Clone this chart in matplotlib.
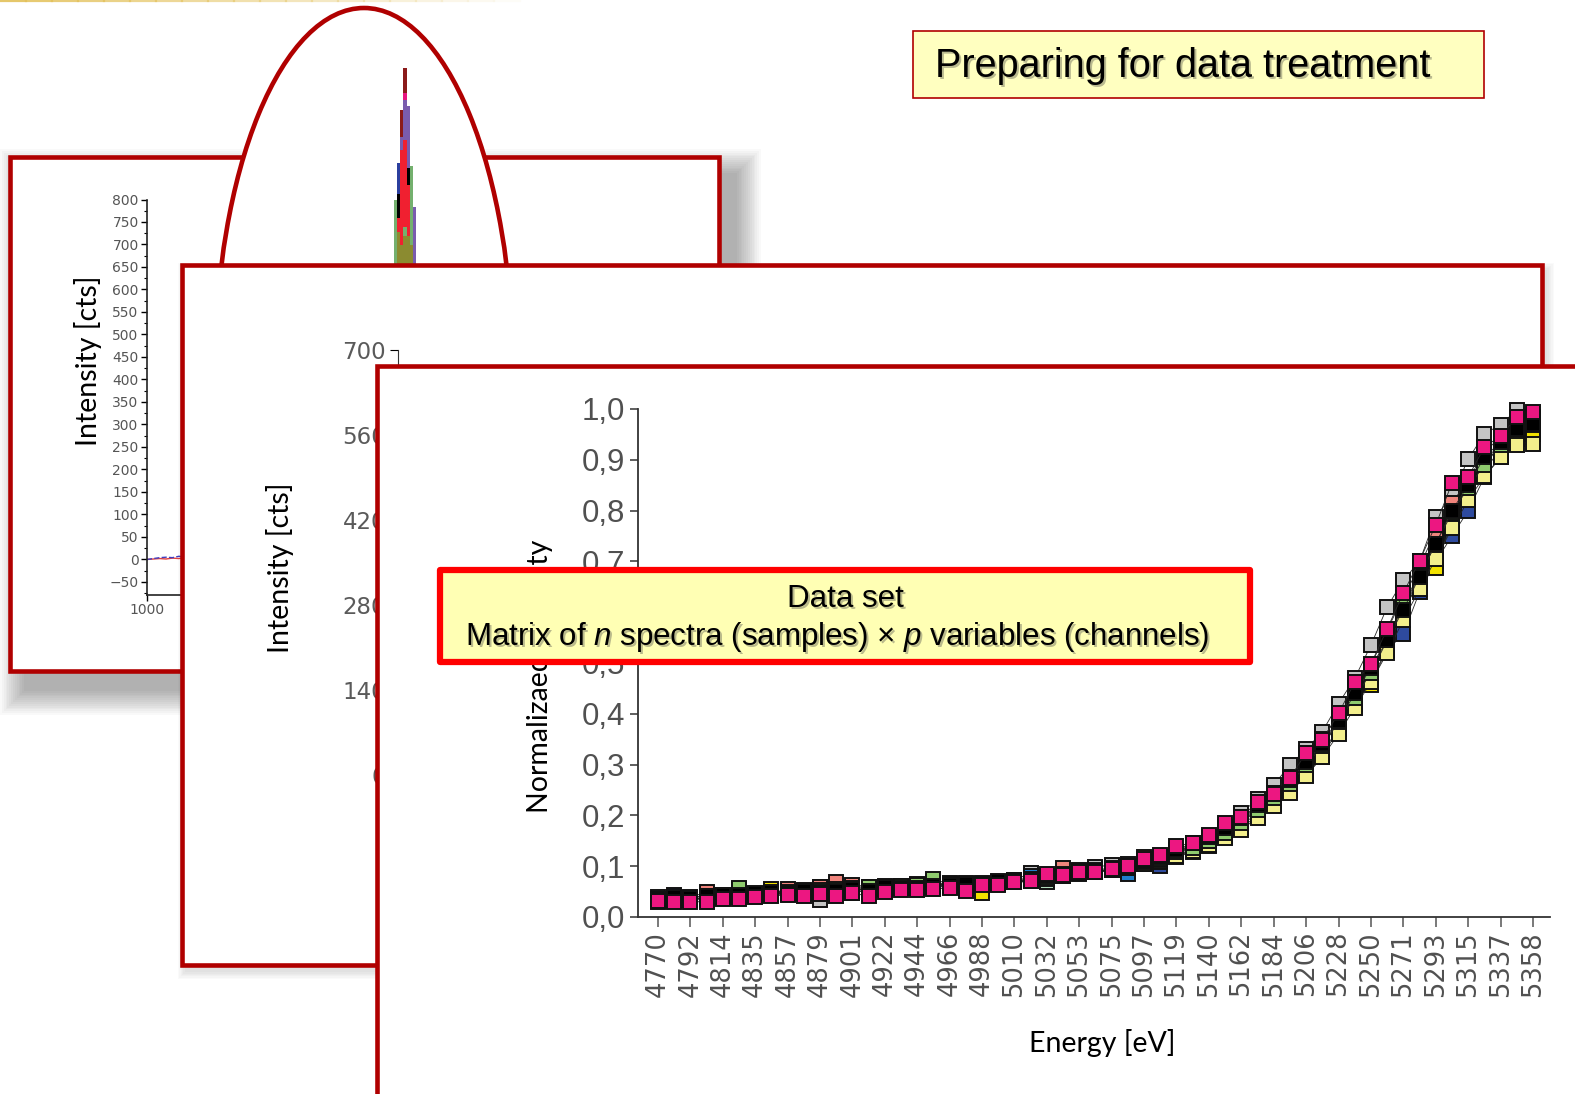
import numpy as np
import matplotlib.pyplot as plt
from matplotlib.patches import Rectangle, Ellipse
from matplotlib.lines import Line2D

plt.rcParams['mathtext.fontset'] = 'custom'
plt.rcParams['mathtext.rm'] = 'Liberation Sans'
plt.rcParams['mathtext.it'] = 'Liberation Sans:italic'

W, H = 1575, 1094
DARKRED = '#B00000'
TICKGREY = '#505050'

# ---- data: main panel (normalized spectra, 55 channels) ----
energy_labels = ['4770', '4792', '4814', '4835', '4857', '4879', '4901', '4922',
                 '4944', '4966', '4988', '5010', '5032', '5053', '5075', '5097',
                 '5119', '5140', '5162', '5184', '5206', '5228', '5250', '5271',
                 '5293', '5315', '5337', '5358']

black = [0.036, 0.040, 0.038, 0.042, 0.043, 0.044, 0.047, 0.050, 0.048, 0.051,
         0.050, 0.052, 0.055, 0.052, 0.060, 0.058, 0.058, 0.062, 0.063, 0.064,
         0.066, 0.070, 0.072, 0.074, 0.080, 0.085, 0.090, 0.093, 0.096, 0.100,
         0.110, 0.118, 0.132, 0.145, 0.158, 0.175, 0.195, 0.220, 0.245, 0.270,
         0.305, 0.340, 0.385, 0.440, 0.490, 0.545, 0.605, 0.670, 0.735, 0.800,
         0.850, 0.905, 0.935, 0.960, 0.970]
grey = [0.040, 0.035, 0.038, 0.036, 0.040, 0.042, 0.044, 0.047, 0.046, 0.050,
        0.034, 0.050, 0.055, 0.054, 0.060, 0.058, 0.062, 0.065, 0.064, 0.060,
        0.062, 0.066, 0.072, 0.087, 0.080, 0.085, 0.092, 0.098, 0.103, 0.105,
        0.112, 0.118, 0.130, 0.142, 0.158, 0.178, 0.205, 0.232, 0.260, 0.299,
        0.330, 0.365, 0.420, 0.470, 0.535, 0.610, 0.663, 0.700, 0.787, 0.830,
        0.901, 0.951, 0.969, 0.998, 0.975]
navy = [0.035, 0.040, 0.036, 0.038, 0.040, 0.042, 0.045, 0.046, 0.050, 0.052,
        0.060, 0.055, 0.058, 0.056, 0.058, 0.060, 0.062, 0.063, 0.062, 0.060,
        0.062, 0.066, 0.070, 0.072, 0.080, 0.085, 0.088, 0.090, 0.092, 0.090,
        0.106, 0.100, 0.118, 0.128, 0.140, 0.160, 0.180, 0.205, 0.230, 0.255,
        0.290, 0.325, 0.370, 0.420, 0.470, 0.525, 0.557, 0.640, 0.700, 0.750,
        0.800, 0.866, 0.905, 0.941, 0.950]
azure = [0.033, 0.043, 0.034, 0.036, 0.038, 0.041, 0.043, 0.045, 0.047, 0.054,
         0.048, 0.050, 0.052, 0.050, 0.055, 0.057, 0.058, 0.060, 0.059, 0.061,
         0.064, 0.067, 0.070, 0.080, 0.078, 0.083, 0.087, 0.089, 0.092, 0.085,
         0.104, 0.108, 0.125, 0.135, 0.150, 0.170, 0.188, 0.212, 0.238, 0.265,
         0.300, 0.338, 0.382, 0.428, 0.478, 0.540, 0.600, 0.665, 0.728, 0.790,
         0.840, 0.900, 0.930, 0.958, 0.965]
lightgreen = [0.034, 0.032, 0.035, 0.038, 0.040, 0.055, 0.042, 0.044, 0.046, 0.048,
              0.050, 0.052, 0.048, 0.053, 0.056, 0.058, 0.062, 0.060, 0.061, 0.058,
              0.063, 0.065, 0.069, 0.072, 0.068, 0.083, 0.086, 0.090, 0.093, 0.097,
              0.108, 0.113, 0.128, 0.138, 0.152, 0.172, 0.190, 0.215, 0.240, 0.268,
              0.305, 0.342, 0.390, 0.440, 0.488, 0.550, 0.615, 0.677, 0.742, 0.797,
              0.850, 0.880, 0.940, 0.975, 0.977]
yellow = [0.032, 0.034, 0.036, 0.037, 0.039, 0.041, 0.044, 0.056, 0.045, 0.047,
          0.049, 0.052, 0.054, 0.056, 0.058, 0.060, 0.061, 0.062, 0.064, 0.063,
          0.047, 0.066, 0.070, 0.072, 0.076, 0.082, 0.086, 0.090, 0.094, 0.098,
          0.118, 0.110, 0.122, 0.132, 0.145, 0.160, 0.175, 0.200, 0.222, 0.250,
          0.280, 0.315, 0.372, 0.430, 0.457, 0.530, 0.604, 0.660, 0.687, 0.780,
          0.830, 0.880, 0.920, 0.945, 0.950]
paleyellow = [0.030, 0.033, 0.035, 0.037, 0.038, 0.040, 0.042, 0.044, 0.046, 0.048,
              0.050, 0.051, 0.053, 0.055, 0.057, 0.059, 0.060, 0.066, 0.062, 0.065,
              0.064, 0.067, 0.069, 0.071, 0.075, 0.080, 0.084, 0.088, 0.092, 0.096,
              0.104, 0.110, 0.120, 0.130, 0.142, 0.156, 0.172, 0.195, 0.218, 0.245,
              0.278, 0.315, 0.360, 0.412, 0.462, 0.520, 0.585, 0.645, 0.705, 0.765,
              0.820, 0.868, 0.905, 0.930, 0.931]
salmon = [0.033, 0.036, 0.038, 0.050, 0.040, 0.042, 0.045, 0.047, 0.055, 0.050,
          0.060, 0.068, 0.063, 0.060, 0.058, 0.062, 0.064, 0.066, 0.066, 0.062,
          0.064, 0.067, 0.070, 0.073, 0.078, 0.097, 0.088, 0.090, 0.094, 0.098,
          0.110, 0.115, 0.130, 0.140, 0.150, 0.168, 0.190, 0.220, 0.245, 0.275,
          0.312, 0.350, 0.398, 0.440, 0.495, 0.565, 0.630, 0.690, 0.760, 0.815,
          0.860, 0.915, 0.945, 0.970, 0.985]
green = [0.035, 0.037, 0.039, 0.041, 0.043, 0.058, 0.046, 0.048, 0.050, 0.052,
         0.054, 0.056, 0.058, 0.060, 0.062, 0.061, 0.063, 0.075, 0.064, 0.066,
         0.065, 0.068, 0.070, 0.073, 0.076, 0.081, 0.086, 0.090, 0.094, 0.099,
         0.108, 0.114, 0.127, 0.136, 0.150, 0.165, 0.185, 0.210, 0.235, 0.262,
         0.300, 0.336, 0.384, 0.432, 0.480, 0.545, 0.612, 0.672, 0.735, 0.795,
         0.845, 0.890, 0.930, 0.960, 0.968]
pink = [0.031, 0.030, 0.030, 0.030, 0.035, 0.035, 0.039, 0.042, 0.043, 0.042,
        0.045, 0.041, 0.047, 0.041, 0.050, 0.054, 0.054, 0.055, 0.057, 0.052,
        0.063, 0.063, 0.068, 0.070, 0.084, 0.082, 0.088, 0.088, 0.094, 0.100,
        0.114, 0.123, 0.139, 0.146, 0.161, 0.185, 0.197, 0.226, 0.242, 0.274,
        0.323, 0.348, 0.401, 0.462, 0.498, 0.567, 0.638, 0.701, 0.772, 0.854,
        0.866, 0.925, 0.947, 0.984, 0.994]

series = [(grey, '#c4c4c4'), (navy, '#2e4a9e'), (azure, '#1f7fcc'),
          (lightgreen, '#b5ddbe'), (yellow, '#f2e200'), (paleyellow, '#f3ef8c'),
          (salmon, '#f0847c'), (green, '#8fcb6e'), (black, '#000000'),
          (pink, '#ec1781')]

# ---- data: first panel (survey spectrum, peak seen through the ellipse) ----
peak_energy = [4910, 4960, 5010, 5060, 5110, 5160, 5210]
peak_darkred = [650, 700, 999, 1092, 880, 700, 600]
peak_pink = [748, 650, 900, 1036, 820, 650, 640]
peak_purple = [700, 760, 940, 1021, 1008, 780, 783]
peak_blue = [730, 881, 800, 850, 760, 700, 650]
peak_black = [640, 812, 780, 820, 870, 866, 620]
peak_red = [680, 760, 910, 932, 832, 800, 600]
peak_green = [799, 700, 700, 740, 700, 874, 560]
peak_olive = [600, 728, 700, 720, 720, 700, 560]
peak_series = [(peak_darkred, '#8b1a1a'), (peak_pink, '#e8157f'),
               (peak_purple, '#7a5cae'), (peak_blue, '#2b3f9e'),
               (peak_black, '#000000'), (peak_red, '#f02030'),
               (peak_green, '#74b06e'), (peak_olive, '#8b8b30')]
base_energy = [1000, 1100, 1200, 1300, 1400, 1500, 1600]
base_red = [0, 1, 2, 1, 3, 2, 4]
base_blue = [0, 2, 4, 5, 4, 7, 6]


def frac(x0, y0, x1, y1):
    return [x0 / W, 1 - y1 / H, (x1 - x0) / W, (y1 - y0) / H]


def fig_rect(x0, y0, x1, y1, **kw):
    r = Rectangle((x0 / W, 1 - y1 / H), (x1 - x0) / W, (y1 - y0) / H,
                  transform=fig.transFigure, **kw)
    fig.add_artist(r)
    return r


def shadow(x0, y0, x1, y1, dx, dy, blur, z, n=14, a=0.022):
    for i in range(n):
        g = blur * (1 - i / n)
        fig_rect(x0 + dx - g, y0 + dy - g, x1 + dx + g, y1 + dy + g,
                 facecolor='black', edgecolor='none', alpha=a, zorder=z)


fig = plt.figure(figsize=(15.75, 10.94), dpi=100)
fig.patch.set_facecolor('white')

# thin gold line on top edge
for i in range(20):
    fig.add_artist(Line2D([i * 26 / W, (i + 1) * 26 / W], [1 - 1 / H, 1 - 1 / H],
                          transform=fig.transFigure, color='#e3c15a', lw=1.6,
                          alpha=0.9 * (1 - i / 20), zorder=0.5))

# ---- panel 1 ----
shadow(10, 157, 719, 671, 16, 18, 26, 1)
fig_rect(10, 157, 719, 671, facecolor='white', edgecolor=DARKRED, lw=3.3, zorder=2)

ax1 = fig.add_axes(frac(147, 199.5, 719, 595))
ax1.set_zorder(3)
ax1.patch.set_alpha(0)
ax1.plot(base_energy, base_red, color='#e04040', lw=1)
ax1.plot(base_energy, base_blue, color='#4040c0', lw=1, ls='--')
ax1.set_xlim(1000, 10000)
ax1.set_ylim(-79, 800)
ax1.set_yticks(range(-50, 801, 50))
ax1.set_yticks(range(-75, 801, 25), minor=True)
ax1.set_xticks([1000, 2000, 3000])
for s in ['top', 'right']:
    ax1.spines[s].set_visible(False)
for s in ['left', 'bottom']:
    ax1.spines[s].set_color('#222222')
    ax1.spines[s].set_linewidth(1.2)
ax1.tick_params(labelsize=10, labelcolor='#555555', length=4, width=1, pad=2)
ax1.tick_params(which='minor', length=2.5, width=0.8)
fig.text(88 / W, 1 - 361 / H, 'Intensity [cts]', rotation=90, ha='center',
         va='center', fontsize=20.5, family='Lato', zorder=3)

# ellipse highlight
fig.add_artist(Ellipse((364 / W, 1 - 370 / H), 2 * 149 / W, 2 * 362 / H,
                       transform=fig.transFigure, facecolor='white',
                       edgecolor=DARKRED, lw=3.3, zorder=4))

axpk = fig.add_axes(frac(147, 60, 719, 559.5))
axpk.set_zorder(5)
axpk.patch.set_alpha(0)
for vals, c in peak_series:
    axpk.bar(peak_energy, vals, width=50, color=c, linewidth=0)
axpk.set_xlim(1000, 10000)
axpk.set_ylim(0, 1110)
axpk.axis('off')

# ---- panel 2 ----
shadow(182, 265, 1542, 965, 4, 6, 8, 6, n=6, a=0.02)
fig_rect(182, 265, 1542, 965, facecolor='white', edgecolor=DARKRED, lw=3.3, zorder=7)

ax2 = fig.add_axes(frac(398, 350, 1530, 775))
ax2.set_zorder(8)
ax2.patch.set_alpha(0)
ax2.set_ylim(0, 700)
ax2.set_yticks(range(0, 701, 140))
ax2.set_xticks([])
for s in ['top', 'right']:
    ax2.spines[s].set_visible(False)
ax2.spines['left'].set_color('#333333')
ax2.tick_params(labelsize=16.5, labelcolor='#5a5a5a', length=5.5, pad=3)
fig.text(280 / W, 1 - 568 / H, 'Intensity [cts]', rotation=90, ha='center',
         va='center', fontsize=20.5, family='Lato', zorder=8)

# ---- panel 3 (main chart) ----
fig_rect(377, 366, 1620, 1130, facecolor='white', edgecolor=DARKRED, lw=3.3, zorder=9)

ax = fig.add_axes(frac(638, 409, 1550, 917))
ax.set_zorder(10)
ax.patch.set_alpha(0)
x = list(range(len(pink)))
for vals, c in series:
    ax.plot(x, vals, color='#262626', lw=0.6, marker='s', markersize=9.4,
            markerfacecolor=c, markeredgecolor='#111111', markeredgewidth=1.4,
            clip_on=False)
ax.set_xlim(-1.23, 55.05)
ax.set_ylim(0, 1.0)
yt = [i / 10 for i in range(11)]
ax.set_yticks(yt)
ax.set_yticklabels([f'{v:.1f}'.replace('.', ',') for v in yt],
                   fontsize=22.5, family='Liberation Sans', color=TICKGREY)
ax.set_xticks(range(0, len(pink), 2))
ax.set_xticklabels(energy_labels, rotation=90, fontsize=18.5,
                   family='DejaVu Sans', color=TICKGREY)
for s in ['top', 'right']:
    ax.spines[s].set_visible(False)
for s in ['left', 'bottom']:
    ax.spines[s].set_color('#333333')
    ax.spines[s].set_linewidth(1.3)
ax.tick_params(axis='y', length=6, width=1.1, pad=3, color='#333333')
ax.tick_params(axis='x', length=7, width=1.1, pad=3, color='#555555')

fig.text(540 / W, 1 - 676 / H, 'Normalizaed intensity', rotation=90, ha='center',
         va='center', fontsize=20.5, family='Lato', zorder=10)
fig.text(1102 / W, 1 - 1043 / H, 'Energy [eV]', ha='center', va='center',
         fontsize=20.5, family='Lato', zorder=10)

# ---- title box ----
fig_rect(913, 31, 1484, 98, facecolor='#ffffc0', edgecolor=DARKRED, lw=1.2, zorder=11)
fig.text(937 / W, 1 - 68 / H, 'Preparing for data treatment', ha='left', va='center',
         fontsize=28.5, family='Liberation Sans', color='#8c8c70', alpha=0.6, zorder=11)
fig.text(935 / W, 1 - 66 / H, 'Preparing for data treatment', ha='left', va='center',
         fontsize=28.5, family='Liberation Sans', color='black', zorder=11)

# ---- data set box ----
fig_rect(440, 570, 1250, 662, facecolor='#ffffb4', edgecolor='#ff0000', lw=4.5,
         joinstyle='round', zorder=12)
line2 = r'Matrix of $n$ spectra (samples) × $p$ variables (channels)'
for (dx, dy, col, al) in [(2, 2, '#8c8c70', 0.6), (0, 0, 'black', 1)]:
    fig.text((845 + dx) / W, 1 - (599 + dy) / H, 'Data set', ha='center', va='center',
             fontsize=22.5, family='Liberation Sans', color=col, alpha=al, zorder=12)
    fig.text((837 + dx) / W, 1 - (637 + dy) / H, line2, ha='center', va='center',
             fontsize=22.5, family='Liberation Sans', color=col, alpha=al, zorder=12)

fig.savefig('out.png', dpi=100)
